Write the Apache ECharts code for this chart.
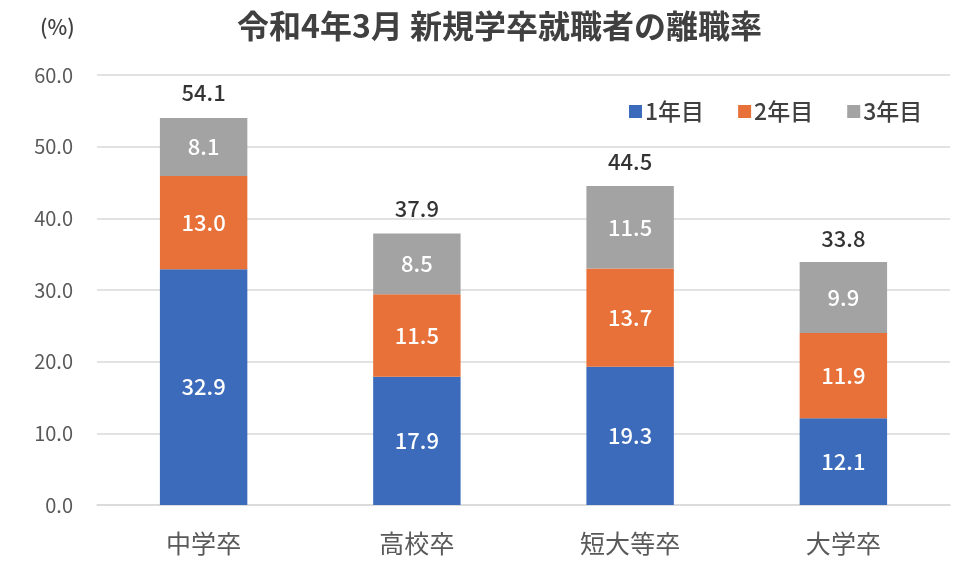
<!DOCTYPE html>
<html><head><meta charset="utf-8">
<script src="https://cdn.jsdelivr.net/npm/echarts@6/dist/echarts.min.js"></script>
<style>html,body{margin:0;padding:0;background:#fff}#c{width:980px;height:566px}</style>
</head><body><div id="c"></div>
<script>
const categories = ['中学卒', '高校卒', '短大等卒', '大学卒'];
const year1 = [32.9, 17.9, 19.3, 12.1];
const year2 = [13.0, 11.5, 13.7, 11.9];
const year3 = [8.1, 8.5, 11.5, 9.9];
const totals = [54.1, 37.9, 44.5, 33.8];
const seriesNames = ['1年目', '2年目', '3年目'];
const yTicks = [0, 10, 20, 30, 40, 50, 60];

const font = '"Noto Sans CJK JP", "Noto Sans", sans-serif';
const colors = ['#3B6BBA', '#E8713A', '#A3A3A3'];
const inLabel = { show: true, position: 'inside', color: '#fff', fontSize: 22, fontWeight: 500, fontFamily: font, formatter: p => p.value.toFixed(1) };

const chart = echarts.init(document.getElementById('c'));
chart.setOption({
  animation: false,
  textStyle: { fontFamily: font },
  title: [
    { text: '令和4年3月 新規学卒就職者の離職率', left: 232, top: 5, textStyle: { fontSize: 32, fontWeight: 'bold', color: '#404040', fontFamily: font } },
    { text: '(%)', left: 35, top: 12, textStyle: { fontSize: 21, fontWeight: 500, color: '#404040', fontFamily: font } }
  ],
  legend: {
    left: 624, top: 95, itemWidth: 13, itemHeight: 13, itemGap: 34,
    icon: 'rect',
    textStyle: { fontSize: 23, fontWeight: 500, color: '#404040', fontFamily: font, padding: [0, 0, 0, -2] },
    data: seriesNames
  },
  grid: { left: 97, right: 30, top: 75, bottom: 61 },
  xAxis: {
    type: 'category', data: categories,
    axisLine: { lineStyle: { color: '#d9d9d9', width: 1.5 } },
    axisTick: { show: false },
    axisLabel: { fontSize: 25, color: '#595959', margin: 26, fontFamily: font }
  },
  yAxis: {
    type: 'value', min: 0, max: 60, interval: 10,
    axisLine: { show: false }, axisTick: { show: false },
    splitLine: { lineStyle: { color: '#d9d9d9', width: 1.5 } },
    axisLabel: { fontSize: 20, color: '#595959', margin: 24, fontFamily: font, formatter: v => v.toFixed(1) }
  },
  series: [
    { name: seriesNames[0], type: 'bar', stack: 's', data: year1, barWidth: '41%', itemStyle: { color: colors[0] }, label: inLabel },
    { name: seriesNames[1], type: 'bar', stack: 's', data: year2, itemStyle: { color: colors[1] }, label: inLabel },
    { name: seriesNames[2], type: 'bar', stack: 's', data: year3, itemStyle: { color: colors[2] }, label: inLabel },
    { name: 'total', type: 'scatter', data: totals, symbolSize: 1, itemStyle: { color: 'rgba(0,0,0,0)' },
      label: { show: true, position: 'top', distance: 13, color: '#000', fontSize: 22, fontWeight: 500, fontFamily: font, formatter: p => p.value.toFixed(1) } }
  ]
});
</script></body></html>
